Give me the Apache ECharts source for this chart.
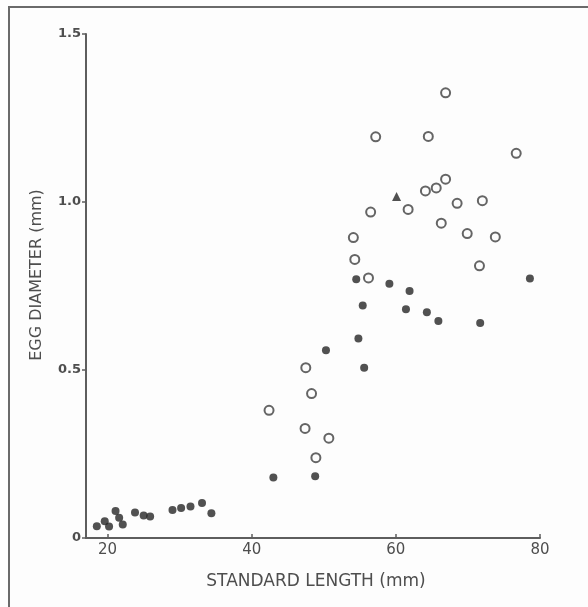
<!DOCTYPE html>
<html>
<head>
<meta charset="utf-8">
<script src="https://cdn.jsdelivr.net/npm/echarts@6/dist/echarts.min.js"></script>
<style>
  html, body { margin: 0; padding: 0; background: #fdfdfd; overflow: hidden; width: 588px; height: 607px; }
  .frame {
    position: absolute; left: 8px; top: 6px; width: 620px; height: 640px;
    border-left: 2px solid #6a6a6a; border-top: 2px solid #6a6a6a;
  }
  #chart { position: absolute; left: 0; top: 0; width: 588px; height: 607px; }
</style>
</head>
<body>
<div class="frame"></div>
<div id="chart"></div>
<script>
// standard length (mm), egg diameter (mm)
const filledEggs = [
  [18.5, 0.035], [19.6, 0.05], [20.2, 0.034], [21.1, 0.08], [21.6, 0.06], [22.1, 0.04],
  [23.8, 0.076], [25.0, 0.067], [25.9, 0.064], [29.0, 0.083], [30.2, 0.089], [31.5, 0.094],
  [33.1, 0.104], [34.4, 0.074], [43.0, 0.18], [48.8, 0.184], [50.3, 0.559], [54.5, 0.770],
  [54.8, 0.594], [55.4, 0.692], [55.6, 0.507], [59.1, 0.757], [61.4, 0.681], [61.9, 0.735],
  [64.3, 0.672], [65.9, 0.646], [71.7, 0.640], [78.6, 0.772]
]
const openEggs = [
  [42.4, 0.38], [47.4, 0.326], [47.5, 0.507], [48.3, 0.43], [48.9, 0.239], [50.7, 0.297],
  [54.1, 0.894], [54.3, 0.829], [56.2, 0.774], [56.5, 0.970], [57.2, 1.194], [61.7, 0.978],
  [64.1, 1.033], [64.5, 1.195], [65.6, 1.042], [66.3, 0.937], [66.9, 1.068], [66.9, 1.325],
  [68.5, 0.996], [69.9, 0.906], [71.6, 0.810], [72.0, 1.004], [73.8, 0.896], [76.7, 1.145]
]
const triangleEggs = [[60.1, 1.016]]

const xTicks = [20, 40, 60, 80]

const textColor = '#4e4e4e'
const axisColor = '#5e5e5e'
const font = 'DejaVu Sans'

const chart = echarts.init(document.getElementById('chart'))

chart.setOption({
  animation: false,
  grid: { left: 86, right: 48, top: 34, bottom: 69 },
  xAxis: {
    type: 'value',
    min: 17,
    max: 80,
    splitLine: { show: false },
    axisLine: { lineStyle: { color: axisColor, width: 2 } },
    axisTick: {
      inside: true,
      length: 4,
      customValues: xTicks,
      lineStyle: { color: axisColor, width: 1.5 }
    },
    axisLabel: {
      customValues: xTicks,
      color: textColor,
      fontFamily: font,
      fontSize: 15,
      margin: 5
    }
  },
  yAxis: {
    type: 'value',
    min: 0,
    max: 1.5,
    interval: 0.5,
    splitLine: { show: false },
    axisLine: { onZero: false, lineStyle: { color: axisColor, width: 2 } },
    axisTick: { length: 4, lineStyle: { color: axisColor, width: 1.5 } },
    axisLabel: {
      color: textColor,
      fontFamily: font,
      fontSize: 13,
      fontWeight: 'bold',
      margin: 5,
      formatter: v => (v === 0 ? '0' : v.toFixed(1))
    }
  },
  graphic: [
    {
      type: 'text',
      x: 316,
      y: 582,
      style: {
        text: 'STANDARD LENGTH (mm)',
        fill: textColor,
        font: '17px "DejaVu Sans"',
        align: 'center',
        verticalAlign: 'middle'
      }
    },
    {
      type: 'text',
      x: 37,
      y: 275,
      rotation: Math.PI / 2,
      style: {
        text: 'EGG DIAMETER (mm)',
        fill: textColor,
        font: '16px "DejaVu Sans"',
        align: 'center',
        verticalAlign: 'middle'
      }
    }
  ],
  series: [
    {
      name: 'filled',
      type: 'scatter',
      data: filledEggs,
      symbol: 'circle',
      symbolSize: 8,
      itemStyle: { color: '#262626' }
    },
    {
      name: 'open',
      type: 'scatter',
      data: openEggs,
      symbol: 'circle',
      symbolSize: 9,
      itemStyle: { color: '#fdfdfd', borderColor: '#3e3e3e', borderWidth: 2 }
    },
    {
      name: 'triangle',
      type: 'scatter',
      data: triangleEggs,
      symbol: 'triangle',
      symbolSize: 9,
      itemStyle: { color: '#262626' }
    }
  ]
})
</script>
</body>
</html>
